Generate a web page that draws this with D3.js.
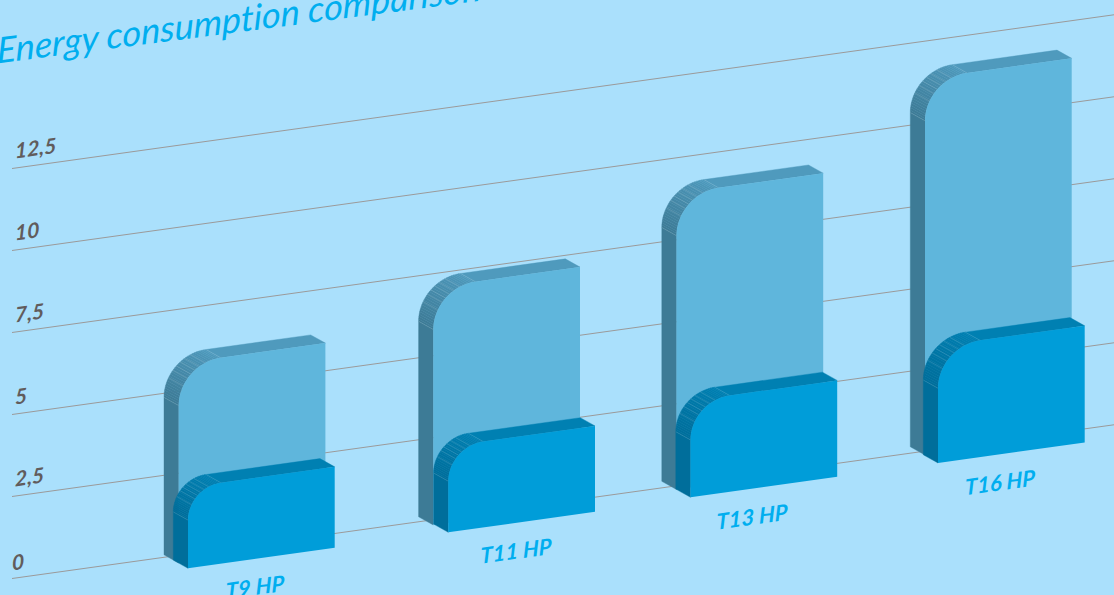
<!DOCTYPE html>
<html>
<head>
<meta charset="utf-8">
<script src="https://cdn.jsdelivr.net/npm/d3@7"></script>
<style>
html,body{margin:0;padding:0;background:#aae0fc;overflow:hidden;}
svg{display:block;font-family:Lato,sans-serif;font-variant-ligatures:none;}
</style>
</head>
<body>
<div id="chart"></div>
<script>
const categories = ["T9 HP","T11 HP","T13 HP","T16 HP"];
const backValues = [6.08,7.24,9.02,11.47];
const frontValues = [2.47,2.62,2.94,3.56];
const yTicks = [0,2.5,5,7.5,10,12.5];
const yTickLabels = ["0","2,5","5","7,5","10","12,5"];
const titleText = "Energy consumption comparison";

const WIDTH = 1114, HEIGHT = 595;
const SLOPE = 0.1395;          // the whole chart plane is sheared upward to the right
const DEPTH_X = -14.7, DEPTH_Y = -8.2;   // extrusion of the bars
const BAR_W = 146.7, RADIUS = 42;
const ARC_STEPS = 28;
const SEAMS = [0,0.3,0.42,0.5,0.58,0.66,0.76,1];  // where the pale facet lines sit on the corner

const svg = d3.select("#chart").append("svg").attr("width",WIDTH).attr("height",HEIGHT);
svg.append("rect").attr("width",WIDTH).attr("height",HEIGHT).attr("fill","#aae0fc");

// value -> height in the plane
const y = d3.scaleLinear().domain([0,12.5]).range([578.5,168.5]);
const pxPerUnit = y(0)-y(1);

// shear a point of the plane to the screen
const shear = (px,py) => [px, py - SLOPE*(px-12)];
const matrix = (tx,ty,s=SLOPE) => "matrix(1,"+(-s)+",0,1,"+tx+","+ty+")";

// grid
const grid = svg.append("g");
yTicks.forEach((t,i)=>{
    const a = shear(12,y(t)), b = shear(WIDTH,y(t));
    grid.append("line").attr("x1",a[0]).attr("y1",a[1]).attr("x2",b[0]).attr("y2",b[1])
        .attr("stroke","#9b9a9a").attr("stroke-width",1);
    grid.append("text").attr("transform",matrix(i==0?12:15,y(t)-(i==0?8:10)))
        .attr("font-size",21).attr("font-style","italic").attr("font-weight",700)
        .attr("fill","#615c5c").text(yTickLabels[i]);
});

// title
svg.append("text").attr("transform",matrix(-3,63.5,0.13))
    .attr("font-size",36).attr("font-style","italic").attr("fill","#00aeef").text(titleText);

// corner point on the face, t runs 0..1 from the left edge to the top edge
function cornerPoint(left,base,h,r,t){
    const a = Math.PI - t*Math.PI/2;
    return [left+r+r*Math.cos(a), base-h+r-r*Math.sin(a)];
}

function drawBar(g,left,base,value,col){
    const h = value*pxPerUnit;
    const r = Math.min(RADIUS,0.405*h);
    const raw = [[left,base]];
    d3.range(ARC_STEPS+1).forEach(i=>raw.push(cornerPoint(left,base,h,r,i/ARC_STEPS)));
    raw.push([left+BAR_W,base-h]);
    const pts = raw.map(p=>shear(p[0],p[1]));
    const back = p => [p[0]+DEPTH_X,p[1]+DEPTH_Y];
    const sideColor = d3.scaleLinear().domain([1,pts.length-2]).range([col.side,col.top]).clamp(true);
    // side faces
    for(let i=0;i<pts.length-1;i++){
        const q = [pts[i],pts[i+1],back(pts[i+1]),back(pts[i])];
        g.append("path").attr("d",d3.line()(q)+"Z")
            .attr("fill",sideColor(i)).attr("stroke",sideColor(i)).attr("stroke-width",0.4);
    }
    // pale seams between the facets
    SEAMS.forEach(t=>{
        const p = cornerPoint(left,base,h,r,t), a = shear(p[0],p[1]), b = back(a);
        g.append("line").attr("x1",a[0]).attr("y1",a[1]).attr("x2",b[0]).attr("y2",b[1])
            .attr("stroke","#ffffff").attr("stroke-opacity",0.22).attr("stroke-width",0.6);
    });
    // front face
    const br = shear(left+BAR_W,base);
    g.append("path").attr("d",d3.line()(pts.concat([br]))+"Z").attr("fill",col.face);
}

const backCol = {face:"#5fb6dc",side:"#3d7b96",top:"#4f9abd"};
const frontCol = {face:"#009dd9",side:"#006e9b",top:"#0080b2"};

const barLeft = d3.scaleOrdinal().domain(categories).range([178.7,433.3,676.5,925]);
const frontLeft = d3.scaleOrdinal().domain(categories).range([188,448.3,690.5,938]);
const backBase = d3.scaleOrdinal().domain(categories).range([563,525,489.5,455]);
const frontBase = d3.scaleOrdinal().domain(categories).range([568.3,532.3,497.3,463]);
const labelX = d3.scaleOrdinal().domain(categories).range([255,516,752,1000]);

const bars = svg.append("g");
categories.forEach((c,i)=>{
    const g = bars.append("g");
    const bl = barLeft(c), fl = frontLeft(c);
    drawBar(g,bl,backBase(c)+SLOPE*(bl-12),backValues[i],backCol);
    drawBar(g,fl,frontBase(c)+SLOPE*(fl-12),frontValues[i],frontCol);
    const lx = labelX(c), ly = frontBase(c)-SLOPE*(lx-fl)+36;
    g.append("text").attr("transform",matrix(lx,ly))
        .attr("text-anchor","middle").attr("font-size",22).attr("font-style","italic")
        .attr("font-weight",700).attr("fill","#00aeef").text(c);
});
</script>
</body>
</html>
